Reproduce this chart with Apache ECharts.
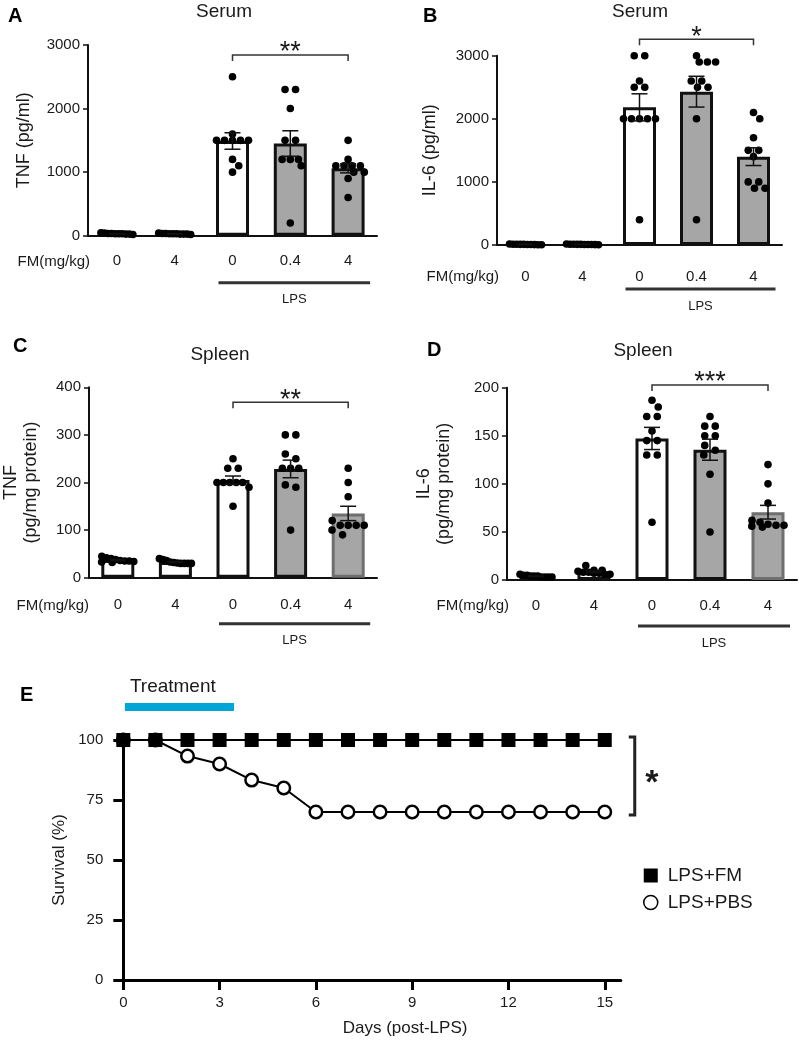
<!DOCTYPE html>
<html><head><meta charset="utf-8">
<script src="https://cdn.jsdelivr.net/npm/echarts@6/dist/echarts.min.js"></script>
<style>html,body{margin:0;padding:0;background:#fff}#c{width:799px;height:1040px}</style>
</head><body><div id="c"></div>
<script>
// ---------------- DATA ----------------
const fmGroups = ['0', '4', '0', '0.4', '4'];

// Panel A: serum TNF (pg/ml), one array per group
const tnfSerum = [
  [40, 30, 25, 35, 20, 30, 45, 25, 35, 30],
  [35, 25, 30, 40, 20, 30, 25, 35, 30, 25],
  [2500, 1600, 1500, 1500, 1500, 1500, 1500, 1200, 1100, 1000],
  [2300, 2300, 2000, 1500, 1500, 1200, 1200, 1200, 1100, 200],
  [1500, 1200, 1100, 1100, 1100, 1100, 1000, 1000, 900, 600]
];
// Panel B: serum IL-6 (pg/ml)
const il6Serum = [
  [10, 5, 15, 8, 12, 6, 10, 4, 9, 11],
  [8, 12, 5, 10, 15, 6, 9, 11, 7, 10],
  [3000, 3000, 2600, 2500, 2500, 2000, 2000, 2000, 2000, 2000, 400],
  [3000, 2900, 2900, 2900, 2600, 2600, 2500, 2500, 2000, 400],
  [2100, 2000, 1700, 1500, 1500, 1400, 1000, 1000, 900, 900]
];
// Panel C: spleen TNF (pg/mg protein)
const tnfSpleen = [
  [45, 42, 40, 38, 36, 35, 35, 34, 33, 32],
  [40, 38, 36, 33, 32, 31, 30, 30, 30, 30],
  [250, 230, 230, 200, 200, 200, 200, 200, 190, 150],
  [300, 300, 260, 250, 230, 230, 230, 195, 190, 100],
  [230, 200, 170, 120, 110, 110, 110, 110, 100, 90]
];
// Panel D: spleen IL-6 (pg/mg protein)
const il6Spleen = [
  [6, 5, 5, 4, 4, 4, 3, 3, 3, 3],
  [15, 10, 10, 9, 8, 8, 7, 7, 6, 6],
  [187, 180, 170, 170, 155, 145, 145, 130, 130, 60],
  [170, 160, 160, 150, 150, 140, 135, 130, 110, 50],
  [120, 100, 80, 62, 60, 58, 57, 57, 56, 55]
];
// Panel E: survival (%)
const days = [0, 1, 2, 3, 4, 5, 6, 7, 8, 9, 10, 11, 12, 13, 14, 15];
const survivalFM  = [100, 100, 100, 100, 100, 100, 100, 100, 100, 100, 100, 100, 100, 100, 100, 100];
const survivalPBS = [100, 100, 93.3, 90, 83.3, 80, 70, 70, 70, 70, 70, 70, 70, 70, 70, 70];
const dayTicks = [0, 3, 6, 9, 12, 15];
const treatmentDays = [0.05, 3.45];

// ---------------- STYLE / LAYOUT ----------------
const FONT = '"Liberation Sans", Arial, Helvetica, sans-serif';
const INK = '#1a1a1a';
const GRAY = '#a6a6a6';

const panelDefs = [
  {letter: 'A', title: 'Serum', values: tnfSerum, max: 3000, interval: 1000, yName: 'TNF (pg/ml)', stars: '**',
   grid: {left: 88, top: 45, width: 289, height: 190.7}, nameGap: 54, labelMargin: 18, fmDy: 26, lpsDy: 47, bracketDy: 10,
   letterPos: [8, 16], titlePos: [224, 12], grayBorder: false},
  {letter: 'B', title: 'Serum', values: il6Serum, max: 3000, interval: 1000, yName: 'IL-6 (pg/ml)', stars: '*',
   grid: {left: 497, top: 55.7, width: 285, height: 189.3}, nameGap: 57, labelMargin: 24, fmDy: 31.7, lpsDy: 44, bracketDy: -16.4,
   letterPos: [423, 16], titlePos: [640, 12], grayBorder: false},
  {letter: 'C', title: 'Spleen', values: tnfSpleen, max: 400, interval: 100, yName: 'TNF\n(pg/mg protein)', stars: '**',
   grid: {left: 87, top: 387.3, width: 290, height: 190.4}, nameGap: 48, labelMargin: 20, fmDy: 28, lpsDy: 46, bracketDy: 15,
   letterPos: [13, 346], titlePos: [220, 355], grayBorder: true},
  {letter: 'D', title: 'Spleen', values: il6Spleen, max: 200, interval: 50, yName: 'IL-6\n(pg/mg protein)', stars: '***',
   grid: {left: 507, top: 387.7, width: 290, height: 192.3}, nameGap: 53, labelMargin: 18, fmDy: 26, lpsDy: 46, bracketDy: -2.7,
   letterPos: [427, 350], titlePos: [643, 351], grayBorder: true}
];
const gridE = {left: 123.3, top: 740, width: 497.5, height: 240};

// ---------------- HELPERS ----------------
function mean(a) { return a.reduce((s, v) => s + v, 0) / a.length; }
function sem(a) {
  const m = mean(a);
  const sd = Math.sqrt(a.reduce((s, v) => s + (v - m) * (v - m), 0) / (a.length - 1));
  return sd / Math.sqrt(a.length);
}
// simple beeswarm: rows of near-equal values are spread horizontally, centred
function swarm(values, ppu, d, maxSpan) {
  const order = values.map((v, i) => i).sort((a, b) => values[b] - values[a]);
  const offs = new Array(values.length).fill(0);
  const placed = [];
  let i = 0;
  while (i < order.length) {
    let j = i + 1;
    while (j < order.length && (values[order[i]] - values[order[j]]) * ppu < d * 0.7) j++;
    const n = j - i;
    const step = n === 2 ? d * 1.35 : (n > 1 ? Math.min(d * 1.05, maxSpan / (n - 1)) : 0);
    const base = [];
    for (let k = 0; k < n; k++) base.push((k - (n - 1) / 2) * step);
    const shifts = [0, d * 0.8, -d * 0.8, d * 1.4, -d * 1.4];
    let best = 0, bestCost = Infinity;
    for (const s of shifts) {
      let cost = 0;
      for (let k = 0; k < n; k++) {
        const x = base[k] + s, y = values[order[i + k]] * ppu;
        for (const p of placed) {
          const dd = Math.hypot(p[0] - x, p[1] - y);
          if (dd < d * 1.05) cost += d * 1.05 - dd;
        }
      }
      if (Math.abs(s) + ((n - 1) / 2) * step > maxSpan / 2 + 6) cost += 1000;
      if (cost < bestCost - 1e-6) { bestCost = cost; best = s; }
    }
    for (let k = 0; k < n; k++) {
      offs[order[i + k]] = base[k] + best;
      placed.push([base[k] + best, values[order[i + k]] * ppu]);
    }
    i = j;
  }
  return offs;
}

// ---------------- OPTION ----------------
const grids = [], xAxes = [], yAxes = [], series = [];
const axisLineStyle = {color: '#111', width: 2};
const plain = v => String(v);

panelDefs.forEach((p, i) => {
  grids.push(Object.assign({}, p.grid));
  xAxes.push({
    type: 'category', gridIndex: i, data: fmGroups,
    axisLine: {lineStyle: axisLineStyle},
    axisTick: {alignWithLabel: true, length: 5, lineStyle: {width: 1.5, color: '#111'}},
    axisLabel: {color: INK, fontSize: 15, fontFamily: FONT, margin: p.labelMargin},
    splitLine: {show: false}
  });
  yAxes.push({
    type: 'value', gridIndex: i, min: 0, max: p.max, interval: p.interval,
    name: p.yName, nameLocation: 'middle', nameGap: p.nameGap,
    nameTextStyle: {fontSize: 18, fontFamily: FONT, color: INK, lineHeight: 20},
    axisLine: {show: true, lineStyle: axisLineStyle},
    axisTick: {show: true, length: 5, lineStyle: {width: 1.5, color: '#111'}},
    axisLabel: {color: INK, fontSize: 15, fontFamily: FONT, margin: 8, formatter: plain},
    splitLine: {show: false}
  });
  const means = p.values.map(mean);
  const sems = p.values.map(sem);
  series.push({
    type: 'bar', xAxisIndex: i, yAxisIndex: i, barWidth: 33, z: 2, silent: true,
    data: means.map((m, k) => ({
      value: m,
      itemStyle: {
        color: k >= 3 ? GRAY : '#fff',
        borderColor: (p.grayBorder && k === 4) ? '#6f6f6f' : '#111',
        borderWidth: 3
      }
    }))
  });
  const ppu = p.grid.height / p.max;
  const dots = [];
  p.values.forEach((arr, k) => {
    const offs = swarm(arr, ppu, 7.8, 32);
    arr.forEach((v, n) => dots.push([k, v, offs[n]]));
  });
  series.push({
    type: 'custom', xAxisIndex: i, yAxisIndex: i, z: 3, silent: true,
    encode: {x: 0, y: 1},
    data: dots,
    renderItem: (params, api) => {
      const pt = api.coord([api.value(0), api.value(1)]);
      return {type: 'circle', shape: {cx: pt[0] + api.value(2), cy: pt[1], r: 3.8}, style: {fill: '#000'}};
    }
  });
  series.push({
    type: 'custom', xAxisIndex: i, yAxisIndex: i, z: 4, silent: true,
    encode: {x: 0, y: 1},
    data: means.map((m, k) => [k, m, sems[k]]),
    renderItem: (params, api) => {
      const c = api.value(0), m = api.value(1), e = api.value(2);
      const t = api.coord([c, m + e]), b = api.coord([c, m - e]);
      const x = t[0], w = 8;
      const st = {stroke: '#111', lineWidth: 1.5};
      return {type: 'group', children: [
        {type: 'line', shape: {x1: x, y1: t[1], x2: x, y2: b[1]}, style: st},
        {type: 'line', shape: {x1: x - w, y1: t[1], x2: x + w, y2: t[1]}, style: st},
        {type: 'line', shape: {x1: x - w, y1: b[1], x2: x + w, y2: b[1]}, style: st}
      ]};
    }
  });
});

// Panel E
grids.push(Object.assign({}, gridE));
xAxes.push({
  type: 'value', gridIndex: 4, min: 0, max: 15.5, interval: 3,
  name: 'Days (post-LPS)', nameLocation: 'middle', nameGap: 40,
  nameTextStyle: {fontSize: 17, fontFamily: FONT, color: INK, padding: [0, 0, 0, 66]},
  axisLine: {lineStyle: {color: '#000', width: 3}},
  axisTick: {length: 10, lineStyle: {width: 3, color: '#000'}, customValues: dayTicks},
  axisLabel: {color: INK, fontSize: 15, fontFamily: FONT, margin: 15, customValues: dayTicks},
  splitLine: {show: false}
});
yAxes.push({
  type: 'value', gridIndex: 4, min: 0, max: 100, interval: 25,
  name: 'Survival (%)', nameLocation: 'middle', nameGap: 50,
  nameTextStyle: {fontSize: 17, fontFamily: FONT, color: INK},
  axisLine: {show: true, lineStyle: {color: '#000', width: 3}},
  axisTick: {show: true, length: 10, lineStyle: {width: 3, color: '#000'}},
  axisLabel: {color: INK, fontSize: 15, fontFamily: FONT, margin: 20},
  splitLine: {show: false}
});
series.push({
  name: 'LPS+PBS', type: 'line', xAxisIndex: 4, yAxisIndex: 4, z: 5,
  data: days.map((d, k) => [d, survivalPBS[k]]),
  symbol: 'circle', symbolSize: 12.5, showAllSymbol: true,
  itemStyle: {color: '#fff', borderColor: '#000', borderWidth: 2.5},
  lineStyle: {color: '#000', width: 2}
});
series.push({
  name: 'LPS+FM', type: 'line', xAxisIndex: 4, yAxisIndex: 4, z: 6,
  data: days.map((d, k) => [d, survivalFM[k]]),
  symbol: 'rect', symbolSize: 14, showAllSymbol: true,
  itemStyle: {color: '#000'},
  lineStyle: {color: '#000', width: 2}
});

const chart = echarts.init(document.getElementById('c'), null, {renderer: 'canvas'});
chart.setOption({
  animation: false,
  backgroundColor: '#fff',
  grid: grids, xAxis: xAxes, yAxis: yAxes, series: series,
  legend: {
    orient: 'vertical', left: 638, top: 861, itemWidth: 14, itemHeight: 14, itemGap: 8,
    selectedMode: false,
    textStyle: {fontSize: 19, fontFamily: FONT, color: INK, padding: [0, 0, 0, 5]},
    data: [
      {name: 'LPS+FM', icon: 'rect', itemStyle: {color: '#000'}},
      {name: 'LPS+PBS', icon: 'circle', itemStyle: {color: '#fff', borderColor: '#000', borderWidth: 1.5}}
    ]
  }
});

// ---------------- ANNOTATIONS ----------------
const g = [];
const txt = (x, y, text, size, opts) => g.push({
  type: 'text', x: x, y: y, silent: true,
  style: Object.assign({text: text, fill: INK, font: size + 'px ' + FONT, align: 'center', verticalAlign: 'middle'}, opts || {})
});
panelDefs.forEach((p, i) => {
  const px = (c, v) => chart.convertToPixel({xAxisIndex: i, yAxisIndex: i}, [c, v]);
  const baseY = px(0, 0)[1];
  const c2 = px(2, 0)[0], c4 = px(4, 0)[0];
  txt(p.letterPos[0], p.letterPos[1], p.letter, 20, {align: 'left', font: 'bold 20px ' + FONT, fill: '#000'});
  txt(p.titlePos[0], p.titlePos[1], p.title, 19);
  txt(p.grid.left + 2, baseY + p.fmDy, 'FM(mg/kg)', 15, {align: 'right'});
  const ly = baseY + p.lpsDy;
  g.push({type: 'line', silent: true, shape: {x1: c2 - 14, y1: ly, x2: c4 + 22, y2: ly}, style: {stroke: '#333', lineWidth: 3}});
  txt((c2 + c4) / 2 + 4, ly + 17, 'LPS', 13);
  const by = p.grid.top + p.bracketDy;
  g.push({type: 'polyline', silent: true,
    shape: {points: [[c2, by + 6], [c2, by], [c4, by], [c4, by + 6]]},
    style: {stroke: '#333', lineWidth: 1.5, fill: null}});
  txt((c2 + c4) / 2, by - 2, p.stars, 27);
});
(function () {
  const pe = (d, v) => chart.convertToPixel({xAxisIndex: 4, yAxisIndex: 4}, [d, v]);
  const t0 = pe(treatmentDays[0], 100), t1 = pe(treatmentDays[1], 100);
  g.push({type: 'rect', silent: true, shape: {x: t0[0], y: gridE.top - 37, width: t1[0] - t0[0], height: 8}, style: {fill: '#00a6d6'}});
  txt(t0[0] + 5, gridE.top - 53, 'Treatment', 19, {align: 'left'});
  txt(20, 695, 'E', 20, {align: 'left', font: 'bold 20px ' + FONT, fill: '#000'});
  const top = pe(15, 100), bot = pe(15, 70);
  const bx = top[0] + 30;
  g.push({type: 'polyline', silent: true,
    shape: {points: [[bx - 6, top[1] - 3], [bx, top[1] - 3], [bx, bot[1] + 3], [bx - 6, bot[1] + 3]]},
    style: {stroke: '#222', lineWidth: 3, fill: null}});
  txt(bx + 17, (top[1] + bot[1]) / 2 + 8, '*', 34, {font: 'bold 34px ' + FONT});
})();
chart.setOption({graphic: g});
</script></body></html>
